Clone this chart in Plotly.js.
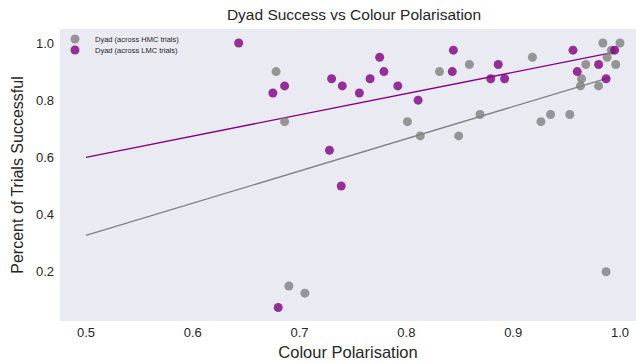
<!DOCTYPE html>
<html>
<head>
<meta charset="utf-8">
<script src="https://cdn.plot.ly/plotly-3.0.1.min.js"></script>
<style>
  html, body { margin: 0; padding: 0; background: #ffffff; }
  #chart { width: 636px; height: 363px; }
</style>
</head>
<body>
<div id="chart"></div>
<script>
// Dyad (across HMC trials)
const hmcX = [0.678, 0.686, 0.690, 0.705, 0.801, 0.813, 0.831, 0.849, 0.859, 0.869,
              0.918, 0.926, 0.935, 0.953, 0.963, 0.964, 0.968, 0.980, 0.984, 0.987,
              0.988, 0.992, 0.996, 1.000];
const hmcY = [0.900, 0.725, 0.150, 0.125, 0.725, 0.675, 0.900, 0.675, 0.925, 0.750,
              0.950, 0.725, 0.750, 0.750, 0.850, 0.875, 0.925, 0.850, 1.000, 0.200,
              0.950, 0.975, 0.925, 1.000];

// Dyad (across LMC trials)
const lmcX = [0.643, 0.675, 0.680, 0.686, 0.728, 0.730, 0.739, 0.740, 0.756, 0.766,
              0.775, 0.779, 0.792, 0.811, 0.843, 0.844, 0.879, 0.886, 0.892, 0.956,
              0.960, 0.980, 0.987, 0.995];
const lmcY = [1.000, 0.825, 0.075, 0.850, 0.625, 0.875, 0.500, 0.850, 0.825, 0.875,
              0.950, 0.900, 0.850, 0.800, 0.900, 0.975, 0.875, 0.925, 0.875, 0.975,
              0.900, 0.925, 0.875, 0.975];

// Fitted trend lines (end points)
const hmcFitX = [0.5, 0.99];
const hmcFitY = [0.327, 0.879];
const lmcFitX = [0.5, 0.995];
const lmcFitY = [0.600, 0.968];

const xTicks = [0.5, 0.6, 0.7, 0.8, 0.9, 1.0];
const yTicks = [0.2, 0.4, 0.6, 0.8, 1.0];

const FONT = 'Liberation Sans, Arial, sans-serif';
const TXT = '#262626';

const traces = [
  {
    x: hmcFitX, y: hmcFitY, mode: 'lines', type: 'scatter',
    line: {color: '#808080', width: 1.3}, showlegend: false, hoverinfo: 'skip'
  },
  {
    x: lmcFitX, y: lmcFitY, mode: 'lines', type: 'scatter',
    line: {color: '#800080', width: 1.3}, showlegend: false, hoverinfo: 'skip'
  },
  {
    x: hmcX, y: hmcY, mode: 'markers', type: 'scatter',
    name: 'Dyad (across HMC trials)', legend: 'legend',
    marker: {color: 'rgba(128,128,128,0.8)', size: 9, line: {width: 0}}
  },
  {
    x: lmcX, y: lmcY, mode: 'markers', type: 'scatter',
    name: 'Dyad (across LMC trials)', legend: 'legend2',
    marker: {color: 'rgba(128,0,128,0.8)', size: 9, line: {width: 0}}
  }
];

const legendCommon = {
  xanchor: 'left', yanchor: 'top',
  bgcolor: 'rgba(0,0,0,0)', borderwidth: 0,
  font: {family: FONT, size: 7.5, color: TXT},
  itemwidth: 30
};

const layout = {
  width: 636, height: 363,
  margin: {l: 60, r: 0, t: 29, b: 42, pad: 0},
  paper_bgcolor: '#ffffff',
  plot_bgcolor: '#EAEAF2',
  font: {family: FONT, color: TXT},
  title: {
    text: 'Dyad Success vs Colour Polarisation',
    font: {family: FONT, size: 15.5, color: TXT},
    x: 354 / 636, xref: 'container', xanchor: 'center',
    y: 1 - 15 / 363, yref: 'container', yanchor: 'middle'
  },
  xaxis: {
    range: [0.4757, 1.015],
    tickvals: xTicks, ticktext: xTicks.map(v => v.toFixed(1)),
    showgrid: false, zeroline: false, showline: false, ticks: '',
    ticklabelstandoff: 2,
    tickfont: {size: 13, color: TXT},
    title: {text: 'Colour Polarisation', font: {size: 16.5, color: TXT}, standoff: 7}
  },
  yaxis: {
    range: [0.0276, 1.049],
    tickvals: yTicks, ticktext: yTicks.map(v => v.toFixed(1)),
    showgrid: false, zeroline: false, showline: false, ticks: '',
    ticklabelstandoff: 5,
    tickfont: {size: 13, color: TXT},
    title: {text: 'Percent of Trials Successful', font: {size: 16, color: TXT}, standoff: 8}
  },
  legend: Object.assign({}, legendCommon, {x: -0.0087, y: 1.0154}),
  legend2: Object.assign({}, legendCommon, {x: -0.0087, y: 0.9777}),
  showlegend: true
};

Plotly.newPlot('chart', traces, layout, {displayModeBar: false, staticPlot: true});
</script>
</body>
</html>
